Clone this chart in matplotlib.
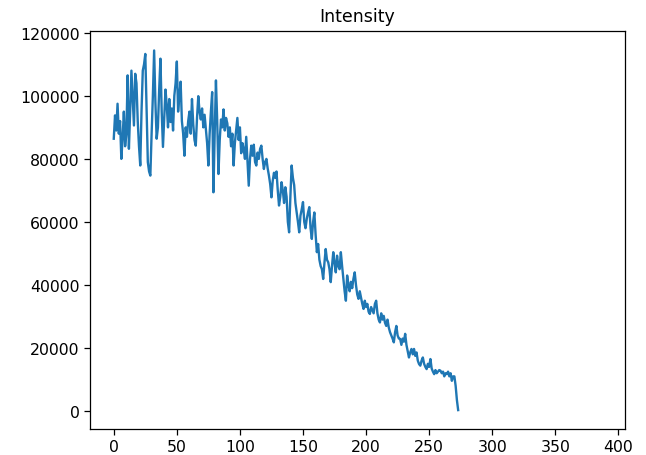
import numpy as np
import matplotlib
matplotlib.use('Agg')
import matplotlib.pyplot as plt

# intensity values, one per frame index
intensity = [
    86400, 93800, 89000, 97500, 88000, 92000, 80000, 86500, 95000, 84000,
    88000, 106500, 83200, 95000, 108000, 99000, 90600, 107000, 104000, 92000,
    84000, 77900, 95000, 108000, 110000, 113300, 96000, 79000, 76000, 74700,
    88000, 100000, 114400, 98000, 86400, 90000, 102000, 111800, 95000, 83800,
    93000, 102000, 97000, 90000, 99000, 91700, 96000, 89000, 100000, 104000,
    110900, 95000, 100000, 104500, 92000, 88000, 81000, 90000, 87000, 92000,
    95000, 88000, 99000, 91000, 86000, 84200, 93000, 99900, 95000, 92500,
    96000, 90000, 94000, 89500, 85000, 77900, 88000, 95000, 101200, 69400,
    88000, 104900, 92000, 75200, 86000, 92500, 90000, 95700, 89000, 93000,
    91300, 87000, 90000, 84000, 88000, 77900, 85000, 89000, 93000, 86000,
    90000, 81800, 85000, 83000, 80000, 87000, 79000, 71500, 80000, 84200,
    81000, 84500, 79000, 77900, 82000, 80000, 83200, 84200, 80000, 76800,
    79000, 80000, 77000, 74700, 72000, 67800, 73000, 75600, 74000, 76000,
    70000, 65200, 68000, 72600, 70000, 66000, 71000, 68000, 60000, 56700,
    68000, 77900, 74000, 71700, 66000, 63000, 60000, 56700, 62000, 64000,
    66300, 60000, 58000, 61000, 63000, 64700, 58000, 54600, 60000, 63000,
    56000, 50400, 53000, 48000, 46000, 45000, 41900, 47000, 51400, 48000,
    47200, 45000, 40900, 46000, 50400, 47000, 44000, 49300, 46000, 45000,
    50400, 46000, 42000, 38000, 35000, 43000, 40000, 38000, 41000, 39000,
    42000, 44000, 40000, 37000, 35600, 38000, 36000, 34000, 32400, 35000,
    33000, 34000, 31500, 30800, 33000, 32000, 31000, 34000, 35000, 31000,
    29000, 28100, 31000, 29000, 30200, 28000, 27000, 29000, 26500, 25000,
    24000, 23000, 21800, 25000, 27000, 24000, 23000, 22900, 21000, 23000,
    22000, 24500, 21000, 19000, 17000, 18600, 19700, 18000, 19700, 17500,
    18600, 16000, 14900, 14400, 16000, 17000, 15000, 14000, 13300, 15000,
    14000, 16500, 13500, 12500, 11700, 13000, 12000, 12500, 13000, 12800,
    12000, 12500, 11000, 12000, 11700, 12500, 11000, 12000, 9600, 11000,
    11000, 8000, 3500, 300,
]
frames = np.arange(len(intensity))

x_ticks = [0, 50, 100, 150, 200, 250, 300, 350, 400]
y_ticks = [0, 20000, 40000, 60000, 80000, 100000, 120000]

plt.rcParams['font.size'] = 11.3

fig = plt.figure(figsize=(6.46, 4.56), dpi=100)
ax = fig.add_axes([0.139, 0.057, 0.828, 0.873])

ax.plot(frames, intensity, color='#1f77b4', linewidth=1.7)
ax.set_title('Intensity', fontsize=12.5, pad=7)

ax.set_xlim(-19, 405)
ax.set_ylim(-5700, 120600)
ax.set_xticks(x_ticks)
ax.set_yticks(y_ticks)
ax.tick_params(length=4, width=0.9)
for s in ax.spines.values():
    s.set_linewidth(0.9)

fig.savefig('out.png', dpi=100)
